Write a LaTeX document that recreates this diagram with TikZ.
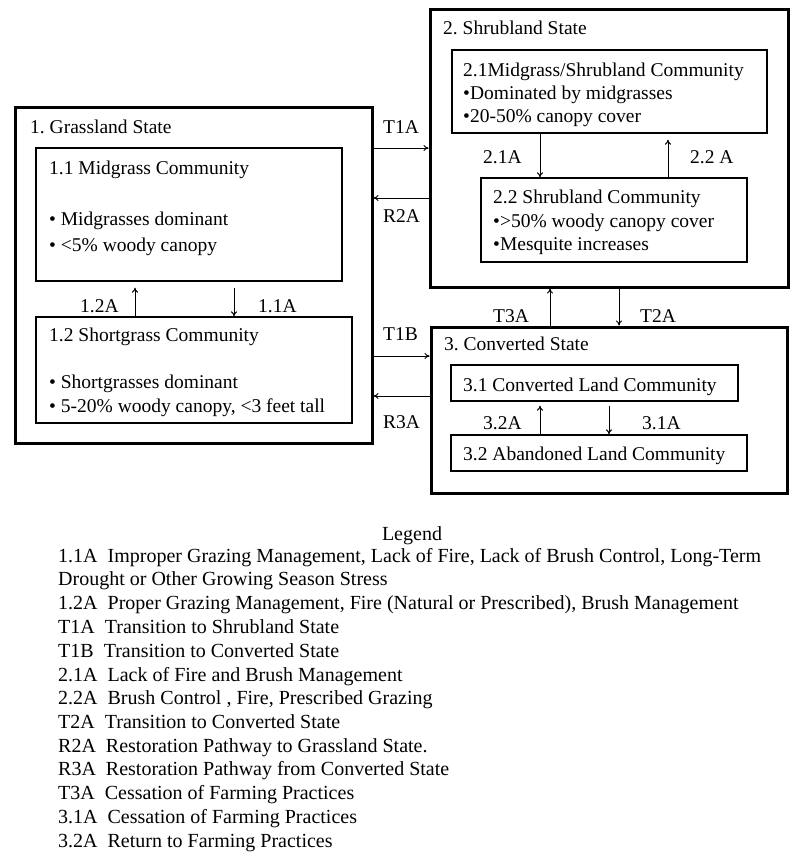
\documentclass[tikz,border=0pt]{standalone}
\usepackage{fontspec}
\setmainfont{Liberation Serif}
\usetikzlibrary{arrows.meta}
\frenchspacing
\begin{document}
\begin{tikzpicture}[x=1pt,y=-1pt,
  outer/.style={draw, line width=3pt, inner sep=0pt},
  inbox/.style={draw, line width=1.3pt, inner sep=0pt},
  txt/.style={anchor=base west, inner sep=0pt, font=\fontsize{19.5}{23}\selectfont},
  leg/.style={anchor=base west, inner sep=0pt, font=\fontsize{20}{24}\selectfont},
  arr/.style={-{To[length=5pt,width=6pt]}, line width=1pt}]
\fill[white] (0,0) rectangle (800,864);
\useasboundingbox (0,0) rectangle (800,864);
% state boxes
\node[outer, minimum width=357pt, minimum height=335pt] (g) at (193.5,275.5) {};
\node[inbox, minimum width=306pt, minimum height=133pt] (g1) at (189,214.5) {};
\node[inbox, minimum width=316pt, minimum height=106pt] (g2) at (194,370) {};
\node[outer, minimum width=358pt, minimum height=277pt] (s) at (609,148.5) {};
\node[inbox, minimum width=315pt, minimum height=83pt] (s1) at (609.5,91.5) {};
\node[inbox, minimum width=266pt, minimum height=84pt] (s2) at (614,220) {};
\node[outer, minimum width=356pt, minimum height=166pt] (c) at (609,410) {};
\node[inbox, minimum width=287pt, minimum height=36pt] (c1) at (594.5,383) {};
\node[inbox, minimum width=296pt, minimum height=36pt] (c2) at (599,453) {};
% texts
\node[txt] (gt) at (30,133) {1. Grassland State};
\node[txt] (g1a) at (49,174) {1.1 Midgrass Community};
\node[txt] (g1b) at (49,225) {\textbullet\ Midgrasses dominant};
\node[txt] (g1c) at (49,251) {\textbullet\ <5\% woody canopy};
\node[txt] (g2a) at (49,341) {1.2 Shortgrass Community};
\node[txt] (g2b) at (49,388) {\textbullet\ Shortgrasses dominant};
\node[txt] (g2c) at (49,412) {\textbullet\ 5-20\% woody canopy, <3 feet tall};
\node[txt] (st) at (443,35) {2. Shrubland State};
\node[txt] (s1a) at (463,77) {2.1Midgrass/Shrubland Community};
\node[txt] (s1b) at (463,100) {\textbullet Dominated by midgrasses};
\node[txt] (s1c) at (463,122) {\textbullet 20-50\% canopy cover};
\node[txt] (s2a) at (493,203) {2.2 Shrubland Community};
\node[txt] (s2b) at (493,227) {\textbullet >50\% woody canopy cover};
\node[txt] (s2c) at (493,250) {\textbullet Mesquite increases};
\node[txt] (ct) at (444,350) {3. Converted State};
\node[txt] (c1a) at (463,391) {3.1 Converted Land Community};
\node[txt] (c2a) at (463,460) {3.2 Abandoned Land Community};
% labels
\node[txt] (l12A) at (80,312) {1.2A};
\node[txt] (l11A) at (258,312) {1.1A};
\node[txt] (lT1A) at (383,133) {T1A};
\node[txt] (lR2A) at (383,222) {R2A};
\node[txt] (lT1B) at (383,340) {T1B};
\node[txt] (lR3A) at (383,428) {R3A};
\node[txt] (l21A) at (483,163) {2.1A};
\node[txt] (l22A) at (690,163) {2.2 A};
\node[txt] (lT3A) at (493,322) {T3A};
\node[txt] (lT2A) at (640,322) {T2A};
\node[txt] (l32A) at (483,429) {3.2A};
\node[txt] (l31A) at (642,429) {3.1A};
% reference coordinates
\coordinate (yT1A) at (0,148);
\coordinate (yR2A) at (0,198);
\coordinate (yT1B) at (0,356);
\coordinate (yR3A) at (0,396);
\coordinate (x12A) at (135,0);
\coordinate (x11A) at (234,0);
\coordinate (x21A) at (540,0);
\coordinate (x22A) at (668,0);
\coordinate (xT3A) at (550,0);
\coordinate (xT2A) at (619,0);
\coordinate (x32A) at (540,0);
\coordinate (x31A) at (609,0);
% connectors
\draw[arr] (g.east |- yT1A) -- (s.west |- yT1A);
\draw[arr] (s.west |- yR2A) -- (g.east |- yR2A);
\draw[arr] (g.east |- yT1B) -- (c.west |- yT1B);
\draw[arr] (c.west |- yR3A) -- (g.east |- yR3A);
\draw[arr, shorten >=6pt] (g2.north -| x12A) -- (g1.south -| x12A);
\draw[arr, shorten <=6pt] (g1.south -| x11A) -- (g2.north -| x11A);
\draw[arr] (s1.south -| x21A) -- (s2.north -| x21A);
\draw[arr, shorten >=6pt] (s2.north -| x22A) -- (s1.south -| x22A);
\draw[arr] (c.north -| xT3A) -- (s.south -| xT3A);
\draw[arr] (s.south -| xT2A) -- (c.north -| xT2A);
\draw[arr, shorten >=4pt] (c2.north -| x32A) -- (c1.south -| x32A);
\draw[arr, shorten <=4pt] (c1.south -| x31A) -- (c2.north -| x31A);
% legend
\node[leg, anchor=base] (legt) at (412,540) {Legend};
\node[leg] (lg1) at (58,562) {1.1A\ \ Improper Grazing Management, Lack of Fire, Lack of Brush Control, Long-Term};
\node[leg] (lg2) at (58,585) {Drought or Other Growing Season Stress};
\node[leg] (lg3) at (58,609) {1.2A\ \ Proper Grazing Management, Fire (Natural or Prescribed), Brush Management};
\node[leg] (lg4) at (58,633) {T1A\ \ Transition to Shrubland State};
\node[leg] (lg5) at (58,657) {T1B\ \ Transition to Converted State};
\node[leg] (lg6) at (58,681) {2.1A\ \ Lack of Fire and Brush Management};
\node[leg] (lg7) at (58,704) {2.2A\ \ Brush Control , Fire, Prescribed Grazing};
\node[leg] (lg8) at (58,728) {T2A\ \ Transition to Converted State};
\node[leg] (lg9) at (58,752) {R2A\ \ Restoration Pathway to Grassland State.};
\node[leg] (lg10) at (58,775) {R3A\ \ Restoration Pathway from Converted State};
\node[leg] (lg11) at (58,799) {T3A\ \ Cessation of Farming Practices};
\node[leg] (lg12) at (58,823) {3.1A\ \ Cessation of Farming Practices};
\node[leg] (lg13) at (58,847) {3.2A\ \ Return to Farming Practices};
\end{tikzpicture}
\end{document}
